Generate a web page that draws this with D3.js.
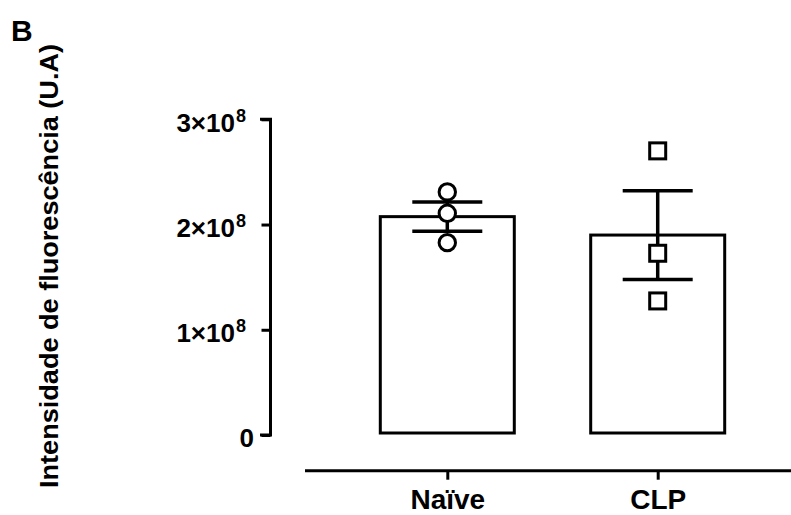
<!DOCTYPE html>
<html>
<head>
<meta charset="utf-8">
<script src="https://cdn.jsdelivr.net/npm/d3@7"></script>
<style>
  body { margin: 0; background: #fff; }
  svg text { font-family: "Liberation Sans", Arial, sans-serif; font-weight: bold; fill: #000; }
</style>
</head>
<body>
<div id="chart"></div>
<script>
// values
const groups = ['Naïve', 'CLP'];
const means = [2.075e8, 1.90e8];
const sems = [0.138e8, 0.422e8];
const naivePoints = [2.31e8, 2.107e8, 1.828e8];
const clpPoints = [2.70e8, 1.727e8, 1.274e8];
const yTicks = [0, 1e8, 2e8, 3e8];
const yTickLabels = ['0', '1×10|8', '2×10|8', '3×10|8'];

const width = 791, height = 515;

const svg = d3.select('#chart').append('svg')
  .attr('width', width)
  .attr('height', height)

const y = d3.scaleLinear()
  .domain([0, 3e8])
  .range([435, 119.3])

const x = d3.scalePoint()
  .domain(groups)
  .range([447.3, 657.7])

const barW = 134;
const capW = 70;

// panel letter
svg.append('text')
  .attr('x', 11)
  .attr('y', 40.7)
  .style('font-size', '30px')
  .text('B')

// y axis
const yAxis = svg.append('g')
  .attr('transform', 'translate(270.5,0)')
  .call(d3.axisLeft(y).tickValues(yTicks).tickSize(9).tickPadding(15))

yAxis.select('.domain')
  .attr('d', `M-9,${y(3e8)}H0V${y(0)}H-9`)
  .attr('stroke-width', 3)
  .attr('stroke-linecap', 'square')
yAxis.selectAll('.tick line').attr('stroke-width', 3)

yAxis.selectAll('.tick text')
  .attr('font-size', null)
  .attr('font-family', null)
  .style('font-size', '26px')
  .attr('dy', '0.45em')
  .each(function(d, i) {
    let parts = yTickLabels[i].split('|');
    let t = d3.select(this).text(null);
    if (parts.length == 1) {
      t.attr('x', -16.5).text(parts[0]);
      return;
    }
    t.attr('x', -24.5);
    t.append('tspan').text(parts[0]);
    t.append('tspan')
      .attr('dx', 1)
      .attr('dy', -10)
      .style('font-size', '18px')
      .text(parts[1]);
  })

// y title
svg.append('text')
  .attr('transform', 'translate(58,266) rotate(-90)')
  .attr('text-anchor', 'middle')
  .attr('textLength', 444)
  .attr('lengthAdjust', 'spacingAndGlyphs')
  .style('font-size', '26px')
  .text('Intensidade de fluorescência (U.A)')

// x axis
const xAxis = svg.append('g')
  .attr('transform', 'translate(0,470.7)')
  .call(d3.axisBottom(x).tickSize(9).tickPadding(10).tickSizeOuter(0))

xAxis.select('.domain')
  .attr('d', 'M305,0H791')
  .attr('stroke-width', 3)
xAxis.selectAll('.tick line').attr('stroke-width', 3)
xAxis.selectAll('.tick text')
  .attr('font-size', null)
  .attr('font-family', null)
  .style('font-size', '28px')
  .attr('dy', null)
  .attr('y', 38.5)

// bars
svg.selectAll('.bar')
  .data(groups)
  .enter().append('rect')
  .attr('class', 'bar')
  .attr('x', d => x(d) - barW / 2)
  .attr('y', (d, i) => y(means[i]))
  .attr('width', barW)
  .attr('height', (d, i) => y(0) - 2 - y(means[i]))
  .style('fill', '#fff')
  .style('stroke', '#000')
  .style('stroke-width', 3)

// error bars (mean ± SEM)
groups.forEach((g, i) => {
  let cx = x(g);
  let hi = y(means[i] + sems[i]);
  let lo = y(means[i] - sems[i]);
  let eb = svg.append('g')
    .style('stroke', '#000')
    .style('stroke-width', 3.5)
  eb.append('line').attr('x1', cx).attr('x2', cx).attr('y1', hi).attr('y2', lo)
  eb.append('line').attr('x1', cx - capW / 2).attr('x2', cx + capW / 2).attr('y1', hi).attr('y2', hi)
  eb.append('line').attr('x1', cx - capW / 2).attr('x2', cx + capW / 2).attr('y1', lo).attr('y2', lo)
})

// points
svg.selectAll('.naive')
  .data(naivePoints)
  .enter().append('circle')
  .attr('class', 'naive')
  .attr('cx', x('Naïve'))
  .attr('cy', d => y(d))
  .attr('r', 8.2)
  .style('fill', '#fff')
  .style('stroke', '#000')
  .style('stroke-width', 3)

const sq = 16;
svg.selectAll('.clp')
  .data(clpPoints)
  .enter().append('rect')
  .attr('class', 'clp')
  .attr('x', x('CLP') - sq / 2)
  .attr('y', d => y(d) - sq / 2)
  .attr('width', sq)
  .attr('height', sq)
  .style('fill', '#fff')
  .style('stroke', '#000')
  .style('stroke-width', 3)
</script>
</body>
</html>
